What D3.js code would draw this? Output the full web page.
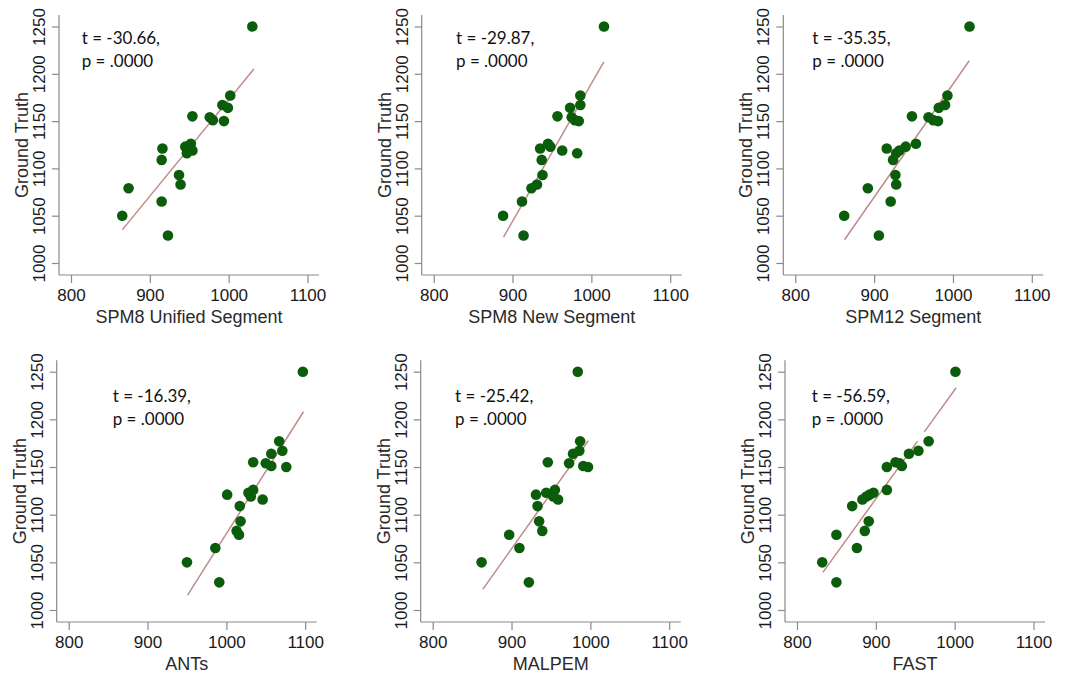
<!DOCTYPE html>
<html>
<head>
<meta charset="utf-8">
<script src="https://cdn.jsdelivr.net/npm/d3@7"></script>
<style>
  body { margin: 0; background: #fff; }
  svg { display: block; }
  .tick-label { font-family: "Liberation Sans", Arial, sans-serif; font-size: 17px; fill: #1a1a1a; }
  .axis-title { font-family: "Liberation Sans", Arial, sans-serif; font-size: 18px; fill: #2a2a2a; }
  .note { font-family: Lato, "Open Sans", sans-serif; font-size: 17px; fill: #111; }
</style>
</head>
<body>
<svg width="1067" height="679"></svg>
<script>
// datos (un valor por sujeto, mismo orden en todos)
const methods = ["SPM8 Unified Segment", "SPM8 New Segment", "SPM12 Segment", "ANTs", "MALPEM", "FAST"];
const groundTruth = [1250, 1177, 1167, 1164, 1155, 1154, 1151, 1150, 1126, 1123, 1121, 1119, 1116, 1109, 1093, 1083, 1079, 1065, 1050, 1029];

const spm8Unified = [1030, 1002, 992, 999, 954, 976, 980, 994, 952, 945, 916, 954, 947, 915, 937, 939, 873, 915, 865, 923];
const spm8New     = [1016, 986, 986, 973, 957, 975, 979, 984, 945, 948, 935, 963, 982, 937, 938, 931, 924, 912, 888, 914];
const spm12       = [1021, 993, 990, 982, 948, 969, 975, 981, 953, 940, 916, 932, 928, 924, 927, 928, 892, 921, 862, 906];
const ants        = [1097, 1067, 1071, 1057, 1034, 1050, 1057, 1076, 1034, 1028, 1001, 1031, 1046, 1017, 1018, 1013, 1016, 986, 950, 991];
const malpem      = [984, 987, 986, 978, 946, 973, 991, 997, 955, 944, 931, 953, 959, 933, 935, 939, 897, 910, 862, 922];
const fast        = [1001, 967, 954, 942, 925, 930, 933, 914, 914, 897, 892, 888, 883, 870, 891, 886, 850, 876, 832, 850];
const estimates = [spm8Unified, spm8New, spm12, ants, malpem, fast];

// recta ajustada: extremos (x0,y0) -> (x1,y1)
const fitX0 = [865, 888.5, 862.4, 950.8, 863.5, 832.8];
const fitY0 = [1035, 1027.4, 1024.6, 1015.7, 1021.7, 1039.5];
const fitX1 = [1032, 1015.8, 1020.6, 1097.8, 997.3, 1001.9];
const fitY1 = [1205, 1212.7, 1213.8, 1208, 1177.6, 1233.2];
const fitGap = [null, null, null, null, null, [953, 961.5]];

const tValues = ["-30.66", "-29.87", "-35.35", "-16.39", "-25.42", "-56.59"];
const pValues = [".0000", ".0000", ".0000", ".0000", ".0000", ".0000"];

const xTicks = [800, 900, 1000, 1100];
const yTicks = [1000, 1050, 1100, 1150, 1200, 1250];

// posiciones de cada panel (pixeles)
const axisLeft = [59, 421.7, 783.3, 56.7, 420.7, 785];
const rowTop = [26.5, 371.7];     // y de 1250
const rowBottom = [263, 610];     // y de 1000
const noteDx = [22.7, 34.3, 29, 56, 34.3, 26.7];
const noteDy = [17.5, 17.5, 17.5, 30.3, 30.3, 30.3];

const svg = d3.select("svg");
const dotColor = "#0b5d0b";
const lineColor = "#c08c8c";
const axisColor = "#8a8a8a";
const fmt = d3.format("d");

methods.forEach((method, i) => {
  const row = Math.floor(i / 3);
  const left = axisLeft[i];

  const x = d3.scaleLinear().domain([800, 1100]).range([left + 12, left + 248.5]);
  const y = d3.scaleLinear().domain([1000, 1250]).range([rowBottom[row], rowTop[row]]);

  const axisY = y(1000) + 12;
  const g = svg.append("g");

  // ejes
  const xAxis = g.append("g")
      .attr("transform", `translate(0, ${axisY})`)
      .call(d3.axisBottom(x).tickValues(xTicks).tickFormat(fmt).tickSize(8).tickSizeOuter(0));
  xAxis.select(".domain").attr("d", `M${left},0H${left + 260}`);
  xAxis.selectAll("line, .domain").attr("stroke", axisColor).attr("stroke-width", 1.2);
  xAxis.selectAll("text").attr("class", "tick-label").attr("fill", null).attr("dy", null).attr("y", 26);

  const yAxis = g.append("g")
      .attr("transform", `translate(${left}, 0)`)
      .call(d3.axisLeft(y).tickValues(yTicks).tickFormat(fmt).tickSize(7).tickSizeOuter(0));
  yAxis.select(".domain").attr("d", `M0,${y(1250) - 11.5}V${axisY}`);
  yAxis.selectAll("line, .domain").attr("stroke", axisColor).attr("stroke-width", 1.2);
  yAxis.selectAll("text")
      .attr("class", "tick-label")
      .attr("fill", null)
      .attr("x", null).attr("dy", null)
      .attr("text-anchor", "middle")
      .attr("transform", "translate(-14, 0) rotate(-90)");

  // titulos de ejes
  g.append("text")
      .attr("class", "axis-title")
      .attr("x", left + 130)
      .attr("y", axisY + 48)
      .attr("text-anchor", "middle")
      .text(method);

  g.append("text")
      .attr("class", "axis-title")
      .attr("transform", `translate(${left - 31}, ${(y(1250) - 11.5 + axisY) / 2}) rotate(-90)`)
      .attr("text-anchor", "middle")
      .text("Ground Truth");

  // recta ajustada
  const fx = [fitX0[i], fitX1[i]];
  const fy = [fitY0[i], fitY1[i]];
  const fitPt = v => fy[0] + (v - fx[0]) * (fy[1] - fy[0]) / (fx[1] - fx[0]);
  const segments = fitGap[i]
    ? [[fx[0], fitGap[i][0]], [fitGap[i][1], fx[1]]]
    : [[fx[0], fx[1]]];
  segments.forEach(s => {
    g.append("line")
        .attr("x1", x(s[0])).attr("y1", y(fitPt(s[0])))
        .attr("x2", x(s[1])).attr("y2", y(fitPt(s[1])))
        .attr("stroke", lineColor)
        .attr("stroke-width", 1.5);
  });

  // puntos
  g.selectAll("circle")
      .data(estimates[i].map((v, k) => [v, groundTruth[k]]))
      .join("circle")
      .attr("cx", d => x(d[0]))
      .attr("cy", d => y(d[1]))
      .attr("r", 5.3)
      .attr("fill", dotColor);

  // anotacion t / p
  const nx = left + noteDx[i];
  const ny = y(1250) + noteDy[i];
  g.append("text").attr("class", "note").attr("x", nx).attr("y", ny).text(`t = ${tValues[i]},`);
  g.append("text").attr("class", "note").attr("x", nx).attr("y", ny + 22.5).text(`p = ${pValues[i]}`);
});
</script>
</body>
</html>
